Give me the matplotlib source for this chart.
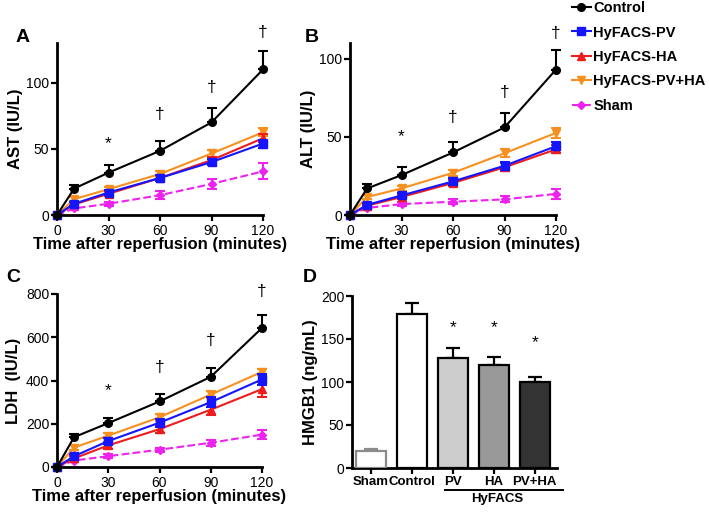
import matplotlib
matplotlib.use("Agg")
import matplotlib.pyplot as plt
import matplotlib.transforms as mtransforms
import numpy as np

plt.rcParams['font.family'] = ['Liberation Sans', 'DejaVu Sans']

times = [0, 10, 30, 60, 90, 120]
groups = ["Control", "HyFACS-PV", "HyFACS-HA", "HyFACS-PV+HA", "Sham"]

# AST (IU/L)
ast_mean = {
    "Control":      [0, 20, 32, 48.5, 70, 110],
    "HyFACS-PV":    [0, 8.5, 17, 28, 40, 54],
    "HyFACS-HA":    [0, 8, 16, 28, 41.5, 58],
    "HyFACS-PV+HA": [0, 12, 19.5, 31, 46.5, 62.5],
    "Sham":         [0, 5, 8.5, 15, 23.5, 33],
}
ast_err = {
    "Control":      [0, 3, 6, 7.5, 11, 14],
    "HyFACS-PV":    [0, 1.5, 2, 2, 2.5, 3],
    "HyFACS-HA":    [0, 1.5, 2, 2, 2.5, 3],
    "HyFACS-PV+HA": [0, 1.5, 2, 2, 2.5, 3],
    "Sham":         [0, 1, 1.5, 3, 4, 6],
}
# ALT (IU/L)
alt_mean = {
    "Control":      [0, 17, 25.5, 40, 56, 93],
    "HyFACS-PV":    [0, 6.5, 12.5, 21.5, 31.5, 44],
    "HyFACS-HA":    [0, 6, 11.5, 20.5, 30.5, 42],
    "HyFACS-PV+HA": [0, 11.5, 17, 27, 39.5, 52.5],
    "Sham":         [0, 4.5, 7, 8.5, 10, 13.5],
}
alt_err = {
    "Control":      [0, 3, 5.5, 7, 9, 12.5],
    "HyFACS-PV":    [0, 1, 1.5, 2, 2.5, 2.5],
    "HyFACS-HA":    [0, 1, 1.5, 2, 2.5, 2.5],
    "HyFACS-PV+HA": [0, 1.5, 1.5, 2, 2.5, 3],
    "Sham":         [0, 1, 1.5, 1.5, 2, 3],
}
# LDH (IU/L)
ldh_mean = {
    "Control":      [0, 138, 203, 303, 417, 643],
    "HyFACS-PV":    [0, 50, 120, 205, 300, 405],
    "HyFACS-HA":    [0, 40, 100, 175, 265, 360],
    "HyFACS-PV+HA": [0, 90, 145, 230, 335, 440],
    "Sham":         [0, 30, 50, 80, 112, 150],
}
ldh_err = {
    "Control":      [0, 15, 25, 33, 40, 60],
    "HyFACS-PV":    [0, 12, 15, 18, 22, 25],
    "HyFACS-HA":    [0, 12, 15, 18, 25, 35],
    "HyFACS-PV+HA": [0, 10, 12, 15, 15, 15],
    "Sham":         [0, 5, 8, 10, 15, 20],
}

ast_marks = {30: ("*", 54), 60: ("\u2020", 76), 90: ("\u2020", 96), 120: ("\u2020", 138)}
alt_marks = {30: ("*", 50), 60: ("\u2020", 62.5), 90: ("\u2020", 78.5), 120: ("\u2020", 116)}
ldh_marks = {30: ("*", 352), 60: ("\u2020", 458), 90: ("\u2020", 583), 120: ("\u2020", 812)}

# HMGB1 (ng/mL)
bar_labels = ["Sham", "Control", "PV", "HA", "PV+HA"]
bar_mean = [19.5, 178.5, 128, 119.5, 100]
bar_err = [3, 13.5, 11, 9.5, 5.5]
bar_stars = [None, None, 163, 163, 146]

styles = {
    "Control":      dict(color="black", marker="o", ls="-"),
    "HyFACS-PV":    dict(color="#1414ff", marker="s", ls="-"),
    "HyFACS-HA":    dict(color="#ee1c1c", marker="^", ls="-"),
    "HyFACS-PV+HA": dict(color="#f7901e", marker="v", ls="-"),
    "Sham":         dict(color="#ee22ee", marker="D", ls="--"),
}
zorders = {"Control": 7, "HyFACS-PV": 6, "HyFACS-HA": 5, "HyFACS-PV+HA": 4, "Sham": 3}
msize = {"Control": 5.5, "HyFACS-PV": 5.5, "HyFACS-HA": 5.5, "HyFACS-PV+HA": 5.5, "Sham": 4}

fig = plt.figure(figsize=(7.09, 5.14), dpi=100)
W, H = 709, 514

def ax_at(l, r, b, t):
    return fig.add_axes([l / W, 1 - b / H, (r - l) / W, (b - t) / H])

def style_axes(ax):
    for s in ["top", "right"]:
        ax.spines[s].set_visible(False)
    for s in ["left", "bottom"]:
        ax.spines[s].set_linewidth(2.0)
    ax.tick_params(width=1.6, length=4, labelsize=10, pad=1.5)
    ax.tick_params(axis="x", pad=2.5)

def line_panel(ax, means, errs, marks, ymax, yticks, ylabel, letter, lx, ly):
    style_axes(ax)
    handles = []
    for g in groups:
        st = styles[g]
        m = np.array(means[g]); e = np.array(errs[g])
        if g == "Control":
            yerr = [np.zeros_like(e), e]
        else:
            yerr = [e, e]
        ax.errorbar(times, m, yerr=yerr, fmt="none", ecolor=st["color"],
                    elinewidth=1.5, capsize=3.5, capthick=1.5, zorder=zorders[g], clip_on=False)
        h, = ax.plot(times, m, color=st["color"], ls=st["ls"], lw=1.5,
                     marker=st["marker"], ms=msize[g], mec=st["color"], mfc=st["color"],
                     zorder=zorders[g] + 0.5, clip_on=False, label=g)
        handles.append(h)
    for x, (s, y) in marks.items():
        ax.text(x, y, s, ha="center", va="center", fontsize=12.5, clip_on=False)
    ax.set_xlim(0, 120)
    ax.set_ylim(0, ymax)
    ax.set_xticks([0, 30, 60, 90, 120])
    ax.set_yticks(yticks)
    ax.set_xlabel("Time after reperfusion (minutes)", fontsize=12, fontweight="bold")
    ax.xaxis.set_label_coords(0.5, -0.128)
    ax.set_ylabel(ylabel, fontsize=12, fontweight="bold")
    ax.yaxis.set_label_coords(lx, 0.5)
    fig.text(ly[0] / W, 1 - ly[1] / H, letter, fontsize=14, fontweight="bold",
             ha="center", va="center")
    return handles

axA = ax_at(57, 263, 215, 43)
handles = line_panel(axA, ast_mean, ast_err, ast_marks, 130, [0, 50, 100], "AST (IU/L)", "A", -0.165, (23, 38))
axB = ax_at(350, 556, 215, 43)
line_panel(axB, alt_mean, alt_err, alt_marks, 110, [0, 50, 100], "ALT (IU/L)", "B", -0.165, (312, 38))
axC = ax_at(57, 262, 467, 294)
line_panel(axC, ldh_mean, ldh_err, ldh_marks, 800, [0, 200, 400, 600, 800], "LDH  (IU/L)", "C", -0.176, (13, 278))

# Panel D
axD = ax_at(352, 557, 468, 296)
style_axes(axD)
x = np.arange(len(bar_labels))
faces = ["white", "white", "#cccccc", "#999999", "#333333"]
edges = ["#8c8c8c", "black", "black", "black", "black"]
for i in range(len(x)):
    axD.bar(x[i], bar_mean[i], width=0.73, color=faces[i], edgecolor=edges[i], linewidth=1.6, zorder=3)
    axD.errorbar(x[i], bar_mean[i], yerr=[[0], [bar_err[i]]], fmt="none", ecolor=edges[i],
                 elinewidth=1.6, capsize=5, capthick=1.6, zorder=2)
    if bar_stars[i] is not None:
        axD.text(x[i], bar_stars[i], "*", ha="center", va="center", fontsize=12.5)
axD.set_xlim(-0.46, 4.54)
axD.set_ylim(0, 200)
axD.set_yticks([0, 50, 100, 150, 200])
axD.set_xticks(x)
axD.set_xticklabels(bar_labels, fontweight="bold", fontsize=9.5)
axD.tick_params(axis="x", pad=1.5)
axD.set_ylabel("HMGB1 (ng/mL)", fontsize=12, fontweight="bold")
axD.yaxis.set_label_coords(-0.166, 0.5)
trans = mtransforms.blended_transform_factory(axD.transData, axD.transAxes)
axD.plot([1.8, 4.68], [-0.13, -0.13], color="black", lw=1.4, transform=trans, clip_on=False)
axD.text(3.07, -0.18, "HyFACS", transform=trans, ha="center", va="center",
         fontsize=9.5, fontweight="bold")
fig.text(310 / W, 1 - 278 / H, "D", fontsize=14, fontweight="bold", ha="center", va="center")

fig.legend(handles=handles, loc="upper left", bbox_to_anchor=(572 / W, 1 - 1 / H),
           frameon=False, prop=dict(size=10.5, weight="bold"), handlelength=1.3,
           handletextpad=0.15, labelspacing=0.72, borderaxespad=0.0, borderpad=0.0)

fig.savefig("out.png", dpi=100)
